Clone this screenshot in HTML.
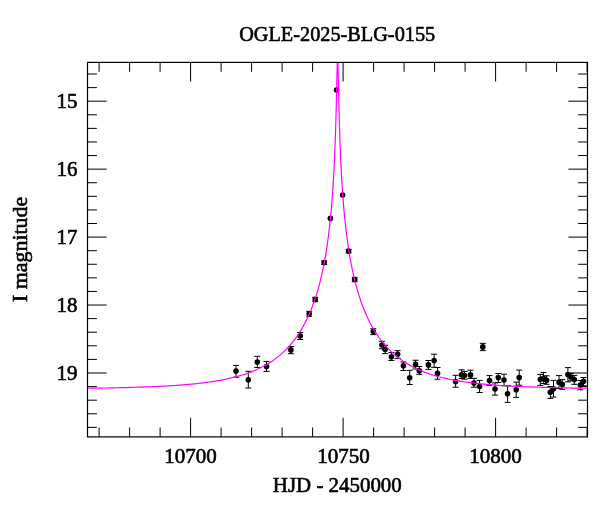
<!DOCTYPE html>
<html><head><meta charset="utf-8"><style>html,body{margin:0;padding:0;background:#fff;width:600px;height:512px;overflow:hidden}svg{display:block;will-change:transform}</style></head>
<body><svg width="600" height="512" viewBox="0 0 600 512">
<rect width="600" height="512" fill="#fff"/>
<path d="M99.10 62.4V71.8M99.10 436.9V427.5M129.60 62.4V71.8M129.60 436.9V427.5M160.10 62.4V71.8M160.10 436.9V427.5M190.60 62.4V81.5M190.60 436.9V417.79999999999995M221.10 62.4V71.8M221.10 436.9V427.5M251.60 62.4V71.8M251.60 436.9V427.5M282.10 62.4V71.8M282.10 436.9V427.5M312.60 62.4V71.8M312.60 436.9V427.5M343.10 62.4V81.5M343.10 436.9V417.79999999999995M373.60 62.4V71.8M373.60 436.9V427.5M404.10 62.4V71.8M404.10 436.9V427.5M434.60 62.4V71.8M434.60 436.9V427.5M465.10 62.4V71.8M465.10 436.9V427.5M495.60 62.4V81.5M495.60 436.9V417.79999999999995M526.10 62.4V71.8M526.10 436.9V427.5M556.60 62.4V71.8M556.60 436.9V427.5M587.10 62.4V71.8M587.10 436.9V427.5M87.5 74.02H96.9M587.5 74.02H578.1M87.5 87.61H96.9M587.5 87.61H578.1M87.5 101.20H106.6M587.5 101.20H568.4M87.5 114.79H96.9M587.5 114.79H578.1M87.5 128.38H96.9M587.5 128.38H578.1M87.5 141.97H96.9M587.5 141.97H578.1M87.5 155.56H96.9M587.5 155.56H578.1M87.5 169.15H106.6M587.5 169.15H568.4M87.5 182.74H96.9M587.5 182.74H578.1M87.5 196.33H96.9M587.5 196.33H578.1M87.5 209.92H96.9M587.5 209.92H578.1M87.5 223.51H96.9M587.5 223.51H578.1M87.5 237.10H106.6M587.5 237.10H568.4M87.5 250.69H96.9M587.5 250.69H578.1M87.5 264.28H96.9M587.5 264.28H578.1M87.5 277.87H96.9M587.5 277.87H578.1M87.5 291.46H96.9M587.5 291.46H578.1M87.5 305.05H106.6M587.5 305.05H568.4M87.5 318.64H96.9M587.5 318.64H578.1M87.5 332.23H96.9M587.5 332.23H578.1M87.5 345.82H96.9M587.5 345.82H578.1M87.5 359.41H96.9M587.5 359.41H578.1M87.5 373.00H106.6M587.5 373.00H568.4M87.5 386.59H96.9M587.5 386.59H578.1M87.5 400.18H96.9M587.5 400.18H578.1M87.5 413.77H96.9M587.5 413.77H578.1M87.5 427.36H96.9M587.5 427.36H578.1" stroke="#000" stroke-width="1.0" fill="none"/>
<path d="M236.00 365.40V377.20M233.00 365.40H239.00M233.00 377.20H239.00M248.30 371.30V388.00M245.30 371.30H251.30M245.30 388.00H251.30M257.30 356.30V367.50M254.30 356.30H260.30M254.30 367.50H260.30M266.50 361.40V371.40M263.50 361.40H269.50M263.50 371.40H269.50M290.90 346.50V353.70M287.90 346.50H293.90M287.90 353.70H293.90M300.20 332.50V339.50M297.20 332.50H303.20M297.20 339.50H303.20M309.20 311.30V316.30M306.20 311.30H312.20M306.20 316.30H312.20M315.20 297.30V301.70M312.20 297.30H318.20M312.20 301.70H318.20M324.20 260.90V264.40M321.20 260.90H327.20M321.20 264.40H327.20M348.60 249.40V252.90M345.60 249.40H351.60M345.60 252.90H351.60M354.70 277.30V281.70M351.70 277.30H357.70M351.70 281.70H357.70M373.30 328.75V334.60M370.30 328.75H376.30M370.30 334.60H376.30M381.90 341.30V348.80M378.90 341.30H384.90M378.90 348.80H384.90M385.10 345.25V353.60M382.10 345.25H388.10M382.10 353.60H388.10M391.40 352.50V360.50M388.40 352.50H394.40M388.40 360.50H394.40M397.60 350.70V358.30M394.60 350.70H400.60M394.60 358.30H400.60M403.40 362.00V370.50M400.40 362.00H406.40M400.40 370.50H406.40M409.70 370.30V384.50M406.70 370.30H412.70M406.70 384.50H412.70M415.50 360.25V369.00M412.50 360.25H418.50M412.50 369.00H418.50M419.30 366.50V374.30M416.30 366.50H422.30M416.30 374.30H422.30M428.40 360.50V369.40M425.40 360.50H431.40M425.40 369.40H431.40M437.50 367.50V379.20M434.50 367.50H440.50M434.50 379.20H440.50M434.10 354.20V367.30M431.10 354.20H437.10M431.10 367.30H437.10M455.60 375.30V387.20M452.60 375.30H458.60M452.60 387.20H458.60M461.60 369.80V378.40M458.60 369.80H464.60M458.60 378.40H464.60M464.50 371.40V379.20M461.50 371.40H467.50M461.50 379.20H467.50M470.50 370.20V378.40M467.50 370.20H473.50M467.50 378.40H473.50M474.00 378.30V387.20M471.00 378.30H477.00M471.00 387.20H477.00M479.60 380.40V392.50M476.60 380.40H482.60M476.60 392.50H482.60M482.80 343.40V350.60M479.80 343.40H485.80M479.80 350.60H485.80M489.50 375.60V385.50M486.50 375.60H492.50M486.50 385.50H492.50M495.00 382.90V395.10M492.00 382.90H498.00M492.00 395.10H498.00M498.30 373.50V382.40M495.30 373.50H501.30M495.30 382.40H501.30M504.00 374.20V385.80M501.00 374.20H507.00M501.00 385.80H507.00M507.60 385.60V402.40M504.60 385.60H510.60M504.60 402.40H510.60M516.20 382.10V397.40M513.20 382.10H519.20M513.20 397.40H519.20M519.20 370.10V385.20M516.20 370.10H522.20M516.20 385.20H522.20M540.30 374.40V385.40M537.30 374.40H543.30M537.30 385.40H543.30M543.40 372.50V383.50M540.40 372.50H546.40M540.40 383.50H546.40M546.60 375.80V384.30M543.60 375.80H549.60M543.60 384.30H549.60M550.30 386.50V398.40M547.30 386.50H553.30M547.30 398.40H553.30M553.50 380.30V397.00M550.50 380.30H556.50M550.50 397.00H556.50M559.00 375.60V388.50M556.00 375.60H562.00M556.00 388.50H562.00M562.30 379.60V389.40M559.30 379.60H565.30M559.30 389.40H565.30M567.90 367.60V381.90M564.90 367.60H570.90M564.90 381.90H570.90M570.90 373.40V380.80M567.90 373.40H573.90M567.90 380.80H573.90M574.30 375.40V384.30M571.30 375.40H577.30M571.30 384.30H577.30M580.30 380.50V389.80M577.30 380.50H583.30M577.30 389.80H583.30M583.50 377.50V385.70M580.50 377.50H586.50M580.50 385.70H586.50" stroke="#000" stroke-width="1.0" fill="none"/>
<g fill="#000"><circle cx="236.00" cy="371.10" r="2.8"/><circle cx="248.30" cy="379.70" r="2.8"/><circle cx="257.30" cy="362.10" r="2.8"/><circle cx="266.50" cy="366.60" r="2.8"/><circle cx="290.90" cy="349.90" r="2.8"/><circle cx="300.20" cy="336.00" r="2.8"/><circle cx="309.20" cy="313.80" r="2.8"/><circle cx="315.20" cy="299.50" r="2.8"/><circle cx="324.20" cy="262.60" r="2.8"/><circle cx="330.40" cy="218.40" r="2.8"/><circle cx="336.60" cy="90.00" r="2.8"/><circle cx="342.60" cy="195.00" r="2.8"/><circle cx="348.60" cy="251.10" r="2.8"/><circle cx="354.70" cy="279.50" r="2.8"/><circle cx="373.30" cy="331.50" r="2.8"/><circle cx="381.90" cy="345.00" r="2.8"/><circle cx="385.10" cy="349.50" r="2.8"/><circle cx="391.40" cy="356.70" r="2.8"/><circle cx="397.60" cy="354.30" r="2.8"/><circle cx="403.40" cy="365.80" r="2.8"/><circle cx="409.70" cy="377.70" r="2.8"/><circle cx="415.50" cy="364.40" r="2.8"/><circle cx="419.30" cy="370.70" r="2.8"/><circle cx="428.40" cy="364.90" r="2.8"/><circle cx="437.50" cy="373.40" r="2.8"/><circle cx="434.10" cy="360.60" r="2.8"/><circle cx="455.60" cy="381.60" r="2.8"/><circle cx="461.60" cy="374.70" r="2.8"/><circle cx="464.50" cy="375.50" r="2.8"/><circle cx="470.50" cy="374.90" r="2.8"/><circle cx="474.00" cy="383.10" r="2.8"/><circle cx="479.60" cy="386.50" r="2.8"/><circle cx="482.80" cy="346.90" r="2.8"/><circle cx="489.50" cy="380.60" r="2.8"/><circle cx="495.00" cy="389.00" r="2.8"/><circle cx="498.30" cy="377.60" r="2.8"/><circle cx="504.00" cy="380.00" r="2.8"/><circle cx="507.60" cy="393.80" r="2.8"/><circle cx="516.20" cy="389.70" r="2.8"/><circle cx="519.20" cy="377.60" r="2.8"/><circle cx="540.30" cy="379.50" r="2.8"/><circle cx="543.40" cy="378.20" r="2.8"/><circle cx="546.60" cy="380.30" r="2.8"/><circle cx="550.30" cy="392.20" r="2.8"/><circle cx="553.50" cy="388.80" r="2.8"/><circle cx="559.00" cy="382.20" r="2.8"/><circle cx="562.30" cy="384.50" r="2.8"/><circle cx="567.90" cy="374.60" r="2.8"/><circle cx="570.90" cy="377.00" r="2.8"/><circle cx="574.30" cy="379.60" r="2.8"/><circle cx="580.30" cy="385.00" r="2.8"/><circle cx="583.50" cy="381.30" r="2.8"/></g>
<clipPath id="c"><rect x="87.5" y="62.4" width="500.0" height="374.5"/></clipPath>
<path d="M87.50 388.26 L90.48 388.22 L93.45 388.18 L96.43 388.13 L99.40 388.09 L102.38 388.04 L105.36 387.98 L108.33 387.93 L111.31 387.87 L114.28 387.81 L117.26 387.74 L120.23 387.68 L123.21 387.60 L126.19 387.53 L129.16 387.45 L132.14 387.36 L135.11 387.27 L138.09 387.18 L141.07 387.08 L144.04 386.97 L147.02 386.86 L149.99 386.74 L152.97 386.62 L155.94 386.49 L158.92 386.35 L161.90 386.20 L164.87 386.04 L167.85 385.87 L170.82 385.69 L173.80 385.51 L176.78 385.30 L179.75 385.09 L182.73 384.86 L185.70 384.62 L188.68 384.36 L191.66 384.09 L194.63 383.79 L197.61 383.48 L200.58 383.15 L203.56 382.79 L206.53 382.41 L209.51 382.00 L212.49 381.56 L215.46 381.09 L218.44 380.59 L221.41 380.06 L224.39 379.48 L227.37 378.86 L230.34 378.20 L233.32 377.49 L236.29 376.72 L239.27 375.90 L242.24 375.02 L245.22 374.06 L248.20 373.04 L251.17 371.93 L254.15 370.73 L257.12 369.44 L260.10 368.05 L263.08 366.54 L266.05 364.90 L269.03 363.13 L272.00 361.21 L274.98 359.12 L277.96 356.85 L280.93 354.38 L283.91 351.68 L286.88 348.73 L289.86 345.50 L292.83 341.95 L295.81 338.04 L298.79 333.72 L301.76 328.92 L304.74 323.57 L307.71 317.57 L310.69 310.78 L313.67 303.04 L316.64 294.09 L319.62 283.58 L322.59 270.98 L322.59 270.98 L322.64 270.75 L322.69 270.51 L322.74 270.27 L322.79 270.04 L322.84 269.80 L322.89 269.56 L322.94 269.32 L322.99 269.08 L323.04 268.84 L323.09 268.60 L323.14 268.35 L323.19 268.11 L323.24 267.86 L323.29 267.62 L323.34 267.37 L323.39 267.12 L323.44 266.88 L323.49 266.63 L323.54 266.38 L323.60 266.12 L323.65 265.87 L323.70 265.62 L323.75 265.36 L323.80 265.11 L323.85 264.85 L323.90 264.59 L323.95 264.34 L324.00 264.08 L324.05 263.82 L324.10 263.56 L324.15 263.29 L324.20 263.03 L324.25 262.77 L324.30 262.50 L324.35 262.23 L324.40 261.97 L324.45 261.70 L324.50 261.43 L324.55 261.16 L324.60 260.88 L324.65 260.61 L324.70 260.34 L324.75 260.06 L324.80 259.79 L324.85 259.51 L324.90 259.23 L324.95 258.95 L325.00 258.67 L325.05 258.39 L325.10 258.10 L325.15 257.82 L325.20 257.53 L325.25 257.25 L325.30 256.96 L325.35 256.67 L325.40 256.38 L325.45 256.09 L325.50 255.79 L325.55 255.50 L325.60 255.20 L325.65 254.91 L325.70 254.61 L325.75 254.31 L325.80 254.01 L325.85 253.71 L325.90 253.40 L325.95 253.10 L326.00 252.79 L326.05 252.48 L326.10 252.17 L326.15 251.86 L326.20 251.55 L326.25 251.24 L326.30 250.92 L326.35 250.61 L326.40 250.29 L326.45 249.97 L326.50 249.65 L326.55 249.33 L326.60 249.01 L326.65 248.68 L326.70 248.35 L326.75 248.03 L326.80 247.70 L326.85 247.36 L326.90 247.03 L326.95 246.70 L327.00 246.36 L327.05 246.02 L327.10 245.68 L327.15 245.34 L327.20 245.00 L327.25 244.66 L327.30 244.31 L327.35 243.96 L327.40 243.61 L327.45 243.26 L327.50 242.91 L327.55 242.55 L327.60 242.19 L327.65 241.84 L327.70 241.48 L327.75 241.11 L327.80 240.75 L327.85 240.38 L327.90 240.01 L327.95 239.64 L328.00 239.27 L328.05 238.90 L328.10 238.52 L328.15 238.14 L328.20 237.76 L328.25 237.38 L328.30 237.00 L328.35 236.61 L328.40 236.22 L328.45 235.83 L328.50 235.44 L328.55 235.04 L328.60 234.64 L328.65 234.24 L328.70 233.84 L328.75 233.44 L328.80 233.03 L328.85 232.62 L328.90 232.21 L328.95 231.80 L329.00 231.38 L329.05 230.96 L329.10 230.54 L329.15 230.12 L329.20 229.69 L329.25 229.26 L329.30 228.83 L329.35 228.40 L329.40 227.96 L329.45 227.52 L329.50 227.08 L329.55 226.63 L329.61 226.19 L329.66 225.74 L329.71 225.28 L329.76 224.83 L329.81 224.37 L329.86 223.91 L329.91 223.44 L329.96 222.97 L330.01 222.50 L330.06 222.03 L330.11 221.55 L330.16 221.07 L330.21 220.58 L330.26 220.10 L330.31 219.61 L330.36 219.11 L330.41 218.61 L330.46 218.11 L330.51 217.61 L330.56 217.10 L330.61 216.59 L330.66 216.07 L330.71 215.55 L330.76 215.03 L330.81 214.50 L330.86 213.97 L330.91 213.44 L330.96 212.90 L331.01 212.36 L331.06 211.81 L331.11 211.26 L331.16 210.71 L331.21 210.15 L331.26 209.58 L331.31 209.01 L331.36 208.44 L331.41 207.86 L331.46 207.28 L331.51 206.70 L331.56 206.11 L331.61 205.51 L331.66 204.91 L331.71 204.30 L331.76 203.69 L331.81 203.08 L331.86 202.45 L331.91 201.83 L331.96 201.19 L332.01 200.56 L332.06 199.91 L332.11 199.26 L332.16 198.61 L332.21 197.95 L332.26 197.28 L332.31 196.61 L332.36 195.93 L332.41 195.25 L332.46 194.55 L332.51 193.86 L332.56 193.15 L332.61 192.44 L332.66 191.72 L332.71 191.00 L332.76 190.26 L332.81 189.52 L332.86 188.77 L332.91 188.02 L332.96 187.26 L333.01 186.49 L333.06 185.71 L333.11 184.92 L333.16 184.12 L333.21 183.32 L333.26 182.51 L333.31 181.69 L333.36 180.85 L333.41 180.01 L333.46 179.17 L333.51 178.31 L333.56 177.44 L333.61 176.56 L333.66 175.67 L333.71 174.77 L333.76 173.86 L333.81 172.93 L333.86 172.00 L333.91 171.05 L333.96 170.10 L334.01 169.13 L334.06 168.15 L334.11 167.15 L334.16 166.15 L334.21 165.12 L334.26 164.09 L334.31 163.04 L334.36 161.98 L334.41 160.90 L334.46 159.81 L334.51 158.70 L334.56 157.58 L334.61 156.43 L334.66 155.28 L334.71 154.10 L334.76 152.91 L334.81 151.70 L334.86 150.47 L334.91 149.22 L334.96 147.95 L335.01 146.66 L335.06 145.35 L335.11 144.02 L335.16 142.67 L335.21 141.29 L335.26 139.90 L335.31 138.47 L335.36 137.03 L335.41 135.55 L335.46 134.05 L335.51 132.53 L335.56 130.97 L335.62 129.39 L335.67 127.78 L335.72 126.14 L335.77 124.47 L335.82 122.77 L335.87 121.03 L335.92 119.26 L335.97 117.46 L336.02 115.63 L336.07 113.76 L336.12 111.85 L336.17 109.91 L336.22 107.94 L336.27 105.93 L336.32 103.88 L336.37 101.80 L336.42 99.68 L336.47 97.54 L336.52 95.36 L336.57 93.15 L336.62 90.91 L336.67 88.66 L336.72 86.38 L336.77 84.10 L336.82 81.81 L336.87 79.53 L336.92 77.26 L336.97 75.03 L337.02 72.83 L337.07 70.70 L337.12 68.65 L337.17 66.70 L337.22 64.88 L337.27 63.20 L337.32 61.71 L337.37 60.41 L337.42 59.34 L337.47 58.52 L337.52 57.96 L337.57 57.67 L337.62 57.67 L337.67 57.96 L337.72 58.52 L337.77 59.34 L337.82 60.41 L337.87 61.71 L337.92 63.20 L337.97 64.88 L338.02 66.70 L338.07 68.65 L338.12 70.70 L338.17 72.83 L338.22 75.03 L338.27 77.26 L338.32 79.53 L338.37 81.81 L338.42 84.10 L338.47 86.38 L338.52 88.66 L338.57 90.91 L338.62 93.15 L338.67 95.36 L338.72 97.54 L338.77 99.68 L338.82 101.80 L338.87 103.88 L338.92 105.93 L338.97 107.94 L339.02 109.91 L339.07 111.85 L339.12 113.76 L339.17 115.63 L339.22 117.46 L339.27 119.26 L339.32 121.03 L339.37 122.77 L339.42 124.47 L339.47 126.14 L339.52 127.78 L339.57 129.39 L339.62 130.97 L339.67 132.53 L339.72 134.05 L339.77 135.55 L339.82 137.03 L339.87 138.47 L339.92 139.90 L339.97 141.29 L340.02 142.67 L340.07 144.02 L340.12 145.35 L340.17 146.66 L340.22 147.95 L340.27 149.22 L340.32 150.47 L340.37 151.70 L340.42 152.91 L340.47 154.10 L340.52 155.28 L340.57 156.43 L340.62 157.58 L340.67 158.70 L340.72 159.81 L340.77 160.90 L340.82 161.98 L340.87 163.04 L340.92 164.09 L340.97 165.12 L341.02 166.15 L341.07 167.15 L341.12 168.15 L341.17 169.13 L341.22 170.10 L341.27 171.05 L341.32 172.00 L341.37 172.93 L341.42 173.86 L341.47 174.77 L341.52 175.67 L341.57 176.56 L341.63 177.44 L341.68 178.31 L341.73 179.17 L341.78 180.01 L341.83 180.85 L341.88 181.69 L341.93 182.51 L341.98 183.32 L342.03 184.12 L342.08 184.92 L342.13 185.71 L342.18 186.49 L342.23 187.26 L342.28 188.02 L342.33 188.77 L342.38 189.52 L342.43 190.26 L342.48 191.00 L342.53 191.72 L342.58 192.44 L342.63 193.15 L342.68 193.86 L342.73 194.55 L342.78 195.25 L342.83 195.93 L342.88 196.61 L342.93 197.28 L342.98 197.95 L343.03 198.61 L343.08 199.26 L343.13 199.91 L343.18 200.56 L343.23 201.19 L343.28 201.83 L343.33 202.45 L343.38 203.08 L343.43 203.69 L343.48 204.30 L343.53 204.91 L343.58 205.51 L343.63 206.11 L343.68 206.70 L343.73 207.28 L343.78 207.86 L343.83 208.44 L343.88 209.01 L343.93 209.58 L343.98 210.15 L344.03 210.71 L344.08 211.26 L344.13 211.81 L344.18 212.36 L344.23 212.90 L344.28 213.44 L344.33 213.97 L344.38 214.50 L344.43 215.03 L344.48 215.55 L344.53 216.07 L344.58 216.59 L344.63 217.10 L344.68 217.61 L344.73 218.11 L344.78 218.61 L344.83 219.11 L344.88 219.61 L344.93 220.10 L344.98 220.58 L345.03 221.07 L345.08 221.55 L345.13 222.03 L345.18 222.50 L345.23 222.97 L345.28 223.44 L345.33 223.91 L345.38 224.37 L345.43 224.83 L345.48 225.28 L345.53 225.74 L345.58 226.19 L345.63 226.63 L345.68 227.08 L345.73 227.52 L345.78 227.96 L345.83 228.40 L345.88 228.83 L345.93 229.26 L345.98 229.69 L346.03 230.12 L346.08 230.54 L346.13 230.96 L346.18 231.38 L346.23 231.80 L346.28 232.21 L346.33 232.62 L346.38 233.03 L346.43 233.44 L346.48 233.84 L346.53 234.24 L346.58 234.64 L346.63 235.04 L346.68 235.44 L346.73 235.83 L346.78 236.22 L346.83 236.61 L346.88 237.00 L346.93 237.38 L346.98 237.76 L347.03 238.14 L347.08 238.52 L347.13 238.90 L347.18 239.27 L347.23 239.64 L347.28 240.01 L347.33 240.38 L347.38 240.75 L347.43 241.11 L347.48 241.48 L347.53 241.84 L347.58 242.19 L347.64 242.55 L347.69 242.91 L347.74 243.26 L347.79 243.61 L347.84 243.96 L347.89 244.31 L347.94 244.66 L347.99 245.00 L348.04 245.34 L348.09 245.68 L348.14 246.02 L348.19 246.36 L348.24 246.70 L348.29 247.03 L348.34 247.36 L348.39 247.70 L348.44 248.03 L348.49 248.35 L348.54 248.68 L348.59 249.01 L348.64 249.33 L348.69 249.65 L348.74 249.97 L348.79 250.29 L348.84 250.61 L348.89 250.92 L348.94 251.24 L348.99 251.55 L349.04 251.86 L349.09 252.17 L349.14 252.48 L349.19 252.79 L349.24 253.10 L349.29 253.40 L349.34 253.71 L349.39 254.01 L349.44 254.31 L349.49 254.61 L349.54 254.91 L349.59 255.20 L349.64 255.50 L349.69 255.79 L349.74 256.09 L349.79 256.38 L349.84 256.67 L349.89 256.96 L349.94 257.25 L349.99 257.53 L350.04 257.82 L350.09 258.10 L350.14 258.39 L350.19 258.67 L350.24 258.95 L350.29 259.23 L350.34 259.51 L350.39 259.79 L350.44 260.06 L350.49 260.34 L350.54 260.61 L350.59 260.88 L350.64 261.16 L350.69 261.43 L350.74 261.70 L350.79 261.97 L350.84 262.23 L350.89 262.50 L350.94 262.77 L350.99 263.03 L351.04 263.29 L351.09 263.56 L351.14 263.82 L351.19 264.08 L351.24 264.34 L351.29 264.59 L351.34 264.85 L351.39 265.11 L351.44 265.36 L351.49 265.62 L351.54 265.87 L351.59 266.12 L351.64 266.38 L351.69 266.63 L351.74 266.88 L351.79 267.12 L351.84 267.37 L351.89 267.62 L351.94 267.86 L351.99 268.11 L352.04 268.35 L352.09 268.60 L352.14 268.84 L352.19 269.08 L352.24 269.32 L352.29 269.56 L352.34 269.80 L352.39 270.04 L352.44 270.27 L352.49 270.51 L352.54 270.75 L352.59 270.98 L352.59 270.98 L355.57 283.58 L358.54 294.07 L361.51 303.02 L364.49 310.76 L367.46 317.54 L370.43 323.54 L373.41 328.89 L376.38 333.69 L379.35 338.01 L382.33 341.92 L385.30 345.47 L388.28 348.70 L391.25 351.65 L394.22 354.35 L397.20 356.82 L400.17 359.09 L403.14 361.18 L406.12 363.11 L409.09 364.88 L412.06 366.51 L415.04 368.02 L418.01 369.42 L420.98 370.71 L423.96 371.91 L426.93 373.01 L429.90 374.04 L432.88 375.00 L435.85 375.88 L438.82 376.71 L441.80 377.47 L444.77 378.18 L447.75 378.85 L450.72 379.47 L453.69 380.04 L456.67 380.58 L459.64 381.08 L462.61 381.55 L465.59 381.99 L468.56 382.39 L471.53 382.78 L474.51 383.13 L477.48 383.47 L480.45 383.78 L483.43 384.08 L486.40 384.35 L489.37 384.61 L492.35 384.85 L495.32 385.08 L498.29 385.30 L501.27 385.50 L504.24 385.69 L507.22 385.87 L510.19 386.03 L513.16 386.19 L516.14 386.34 L519.11 386.48 L522.08 386.61 L525.06 386.74 L528.03 386.86 L531.00 386.97 L533.98 387.07 L536.95 387.17 L539.92 387.27 L542.90 387.36 L545.87 387.44 L548.84 387.52 L551.82 387.60 L554.79 387.67 L557.76 387.74 L560.74 387.80 L563.71 387.87 L566.69 387.92 L569.66 387.98 L572.63 388.03 L575.61 388.08 L578.58 388.13 L581.55 388.18 L584.53 388.22 L587.50 388.26" stroke="#ff00ff" stroke-width="1.2" fill="none" clip-path="url(#c)"/>
<rect x="87.5" y="62.4" width="500.00" height="374.50" stroke="#000" stroke-width="1.2" fill="none"/>
<g font-family="Liberation Serif" font-size="21" fill="#000" stroke="#000" stroke-width="0.6">
<text x="337.2" y="41.3" text-anchor="middle" textLength="196" lengthAdjust="spacingAndGlyphs">OGLE-2025-BLG-0155</text>
<text x="77.5" y="108.3" text-anchor="end">15</text>
<text x="77.5" y="176.3" text-anchor="end">16</text>
<text x="77.5" y="244.2" text-anchor="end">17</text>
<text x="77.5" y="312.2" text-anchor="end">18</text>
<text x="77.5" y="380.2" text-anchor="end">19</text>
<text x="190.5" y="462.8" text-anchor="middle">10700</text>
<text x="343.4" y="462.8" text-anchor="middle">10750</text>
<text x="495.6" y="462.8" text-anchor="middle">10800</text>
<text x="337.3" y="491.9" text-anchor="middle" textLength="129" lengthAdjust="spacingAndGlyphs">HJD - 2450000</text>
<text transform="translate(26.7 249.4) rotate(-90)" text-anchor="middle" textLength="105" lengthAdjust="spacingAndGlyphs">I magnitude</text>
</g>
</svg></body></html>
